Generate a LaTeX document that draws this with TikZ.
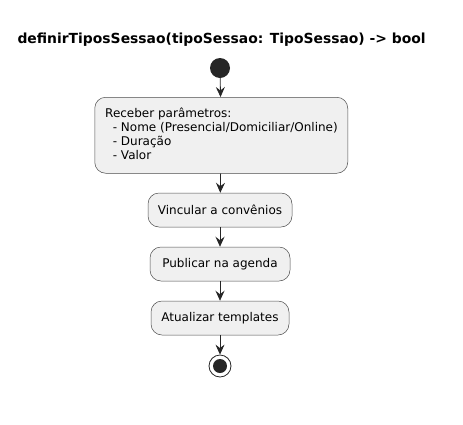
\documentclass[tikz,border=0pt]{standalone}
\usepackage{fontspec}
\setmainfont{DejaVu Sans}
\usetikzlibrary{arrows.meta}
\begin{document}
\begin{tikzpicture}[x=1pt,y=-1pt,
  act/.style={draw=black!70,fill=black!6,rounded corners=11pt,line width=0.5pt,minimum height=34pt,inner sep=0pt,font=\fontsize{12}{14}\selectfont},
  flow/.style={draw=black!85,line width=0.8pt,-{Stealth[length=10pt,width=9pt,inset=3.5pt]}}]
\useasboundingbox (0,0) rectangle (463,424);
\node[anchor=base west,font=\bfseries\fontsize{13.9}{16}\selectfont] (title) at (14,43.5) {definirTiposSessao(tipoSessao: TipoSessao) -> bool};
\node[circle,fill=black!85,minimum size=20pt,inner sep=0pt] (start) at (220,68) {};
\node[act,minimum width=253pt,minimum height=76pt,anchor=north west] (b1) at (94.5,97) {};
\node[anchor=north west,align=left,inner sep=0pt,font=\fontsize{12}{14}\selectfont] (t1) at (105,108) {Receber parâmetros:\\\ \ - Nome (Presencial/Domiciliar/Online)\\\ \ - Duração\\\ \ - Valor};
\node[act,minimum width=144pt] (b2) at (220,210) {Vincular a convênios};
\node[act,minimum width=140pt] (b3) at (220,264) {Publicar na agenda};
\node[act,minimum width=138pt] (b4) at (220,318) {Atualizar templates};
\node[circle,draw=black!85,line width=0.8pt,fill=white,minimum size=22pt,inner sep=0pt] (end) at (220,366) {};
\node[circle,fill=black!85,minimum size=14pt,inner sep=0pt] (endin) at (end) {};
\draw[flow] (start) -- (b1);
\draw[flow] (b1) -- (b2);
\draw[flow] (b2) -- (b3);
\draw[flow] (b3) -- (b4);
\draw[flow] (b4) -- (end);
\end{tikzpicture}
\end{document}
